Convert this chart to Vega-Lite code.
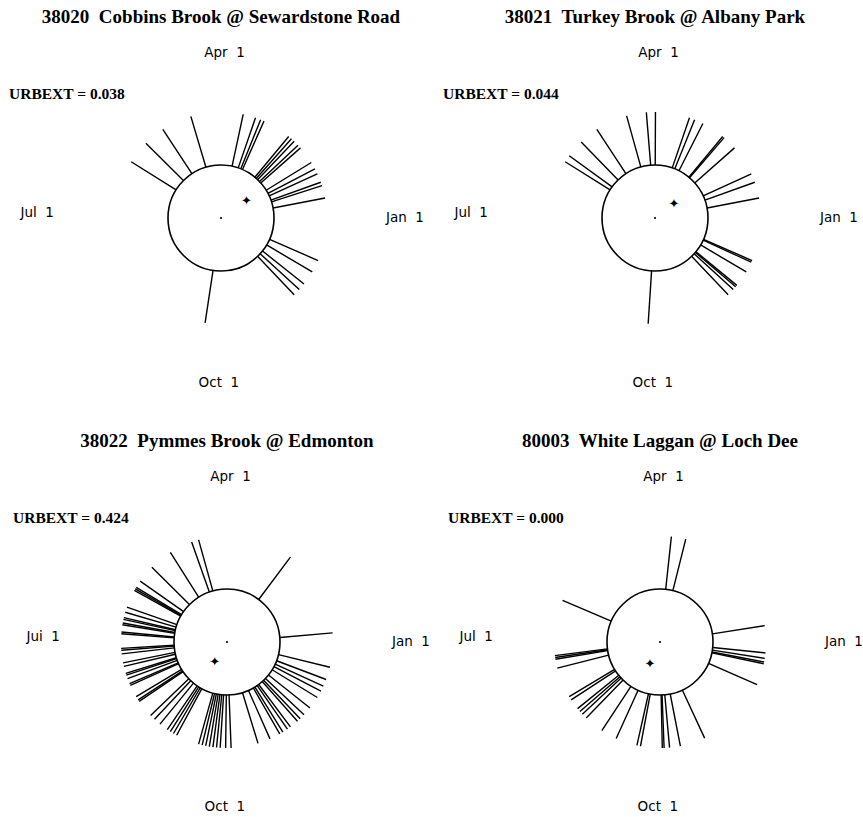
{
  "$schema": "https://vega.github.io/schema/vega-lite/v6.json",
  "padding": {"left": 9, "top": 8, "right": 0, "bottom": 0},
  "bounds": "flush",
  "align": "each",
  "columns": 2,
  "spacing": {"row": 74, "column": 12},
  "config": {
    "view": {"stroke": null},
    "title": {"font": "Liberation Serif", "fontSize": 19, "fontWeight": "bold", "offset": 16, "color": "black"},
    "text": {"font": "DejaVu Sans", "fontSize": 13.5, "color": "black"}
  },
  "datasets": {
    "p1": [{"day":150},{"day":137},{"day":125},{"day":108},{"day":79},{"day":72},{"day":69},{"day":67},{"day":51},{"day":49},{"day":47},{"day":44},{"day":42},{"day":32},{"day":28},{"day":25},{"day":20},{"day":18},{"day":11},{"day":341},{"day":334},{"day":326},{"day":322},{"day":318},{"day":265}],
    "p2": [{"day":150},{"day":146},{"day":136},{"day":125},{"day":107},{"day":96},{"day":91},{"day":72},{"day":69},{"day":64},{"day":51},{"day":50},{"day":42},{"day":25},{"day":20},{"day":11},{"day":341},{"day":340},{"day":334},{"day":325},{"day":324},{"day":322},{"day":318},{"day":270}],
    "p3": [{"day":54},{"day":5},{"day":351},{"day":344},{"day":340},{"day":337},{"day":333},{"day":326},{"day":321},{"day":318},{"day":316},{"day":311},{"day":309},{"day":306},{"day":304},{"day":298},{"day":291},{"day":276},{"day":273},{"day":270},{"day":268},{"day":266},{"day":264},{"day":262},{"day":260},{"day":258},{"day":245},{"day":243},{"day":241},{"day":239},{"day":234},{"day":230},{"day":227},{"day":217},{"day":216},{"day":214},{"day":207},{"day":206},{"day":203},{"day":201},{"day":200},{"day":196},{"day":194},{"day":189},{"day":187},{"day":186},{"day":178},{"day":177},{"day":173},{"day":172},{"day":170},{"day":169},{"day":166},{"day":163},{"day":153},{"day":152},{"day":151},{"day":147},{"day":137},{"day":124},{"day":111},{"day":107}],
    "p4": [{"day":85},{"day":77},{"day":159},{"day":190},{"day":191},{"day":192},{"day":197},{"day":214},{"day":216},{"day":222},{"day":224},{"day":226},{"day":229},{"day":240},{"day":249},{"day":261},{"day":263},{"day":275},{"day":276},{"day":279},{"day":285},{"day":299},{"day":9},{"day":359},{"day":356},{"day":354},{"day":353},{"day":341}],
    "vlab": [{"day":90,"label":"Apr\u00a0 1"},{"day":273,"label":"Oct\u00a0 1"}],
    "hlab": [{"day":0,"label":"Jan\u00a0 1"},{"day":181,"label":"Jul\u00a0 1"}],
    "hlab3": [{"day":0,"label":"Jan\u00a0 1"},{"day":181,"label":"Jui\u00a0 1"}]
  },
  "concat": [
    {
      "width": 410, "height": 350,
      "title": {"text": "38020\u00a0 Cobbins Brook @ Sewardstone Road"},
      "layer": [
        {"data": {"name": "p1"}, "mark": {"type": "arc", "filled": false, "color": "black", "strokeWidth": 1.4},
         "encoding": {"theta": {"field": "day", "type": "quantitative", "stack": null, "scale": {"domain": [0, 365], "range": [1.5707963268, -4.7123889804]}}, "theta2": {"field": "day"},
          "radius": {"datum": 2, "type": "quantitative", "scale": {"type": "linear", "domain": [0, 4], "range": [0, 212]}}, "radius2": {"datum": 1}}},
        {"data": {"values": [{}]}, "mark": {"type": "arc", "filled": false, "color": "black", "strokeWidth": 1.6},
         "encoding": {"theta": {"datum": 0, "type": "quantitative"}, "theta2": {"datum": 366}, "radius": {"datum": 1, "type": "quantitative"}}},
        {"data": {"values": [{}]}, "mark": {"type": "arc", "filled": true, "color": "black"},
         "encoding": {"theta": {"datum": 0, "type": "quantitative"}, "theta2": {"datum": 366}, "radius": {"datum": 0.02, "type": "quantitative"}}},
        {"data": {"values": [{"day": 34.5, "r": 0.58}]}, "mark": {"type": "text", "text": "✦", "fontSize": 13},
         "encoding": {"theta": {"field": "day", "type": "quantitative"}, "radius": {"field": "r", "type": "quantitative"}}},
        {"data": {"name": "vlab"}, "mark": {"type": "text"},
         "encoding": {"theta": {"field": "day", "type": "quantitative"}, "radius": {"datum": 3.11, "type": "quantitative"}, "text": {"field": "label"}}},
        {"data": {"name": "hlab"}, "mark": {"type": "text"},
         "encoding": {"theta": {"field": "day", "type": "quantitative"}, "radius": {"datum": 3.47, "type": "quantitative"}, "text": {"field": "label"}}},
        {"data": {"values": [{"label": "URBEXT = 0.038"}]}, "mark": {"type": "text", "align": "left", "font": "Liberation Serif", "fontWeight": "bold", "fontSize": 15.5},
         "encoding": {"x": {"datum": -1.034, "type": "quantitative", "scale": {"domain": [-1, 1], "nice": false, "zero": false}, "axis": null},
          "y": {"datum": 0.709, "type": "quantitative", "scale": {"domain": [-1, 1], "nice": false, "zero": false}, "axis": null}, "text": {"field": "label"}}}
      ]
    },
    {
      "width": 410, "height": 350,
      "title": {"text": "38021\u00a0 Turkey Brook @ Albany Park"},
      "layer": [
        {"data": {"name": "p2"}, "mark": {"type": "arc", "filled": false, "color": "black", "strokeWidth": 1.4},
         "encoding": {"theta": {"field": "day", "type": "quantitative", "stack": null, "scale": {"domain": [0, 365], "range": [1.5707963268, -4.7123889804]}}, "theta2": {"field": "day"},
          "radius": {"datum": 2, "type": "quantitative", "scale": {"type": "linear", "domain": [0, 4], "range": [0, 212]}}, "radius2": {"datum": 1}}},
        {"data": {"values": [{}]}, "mark": {"type": "arc", "filled": false, "color": "black", "strokeWidth": 1.6},
         "encoding": {"theta": {"datum": 0, "type": "quantitative"}, "theta2": {"datum": 366}, "radius": {"datum": 1, "type": "quantitative"}}},
        {"data": {"values": [{}]}, "mark": {"type": "arc", "filled": true, "color": "black"},
         "encoding": {"theta": {"datum": 0, "type": "quantitative"}, "theta2": {"datum": 366}, "radius": {"datum": 0.02, "type": "quantitative"}}},
        {"data": {"values": [{"day": 37.5, "r": 0.45}]}, "mark": {"type": "text", "text": "✦", "fontSize": 13},
         "encoding": {"theta": {"field": "day", "type": "quantitative"}, "radius": {"field": "r", "type": "quantitative"}}},
        {"data": {"name": "vlab"}, "mark": {"type": "text"},
         "encoding": {"theta": {"field": "day", "type": "quantitative"}, "radius": {"datum": 3.11, "type": "quantitative"}, "text": {"field": "label"}}},
        {"data": {"name": "hlab"}, "mark": {"type": "text"},
         "encoding": {"theta": {"field": "day", "type": "quantitative"}, "radius": {"datum": 3.47, "type": "quantitative"}, "text": {"field": "label"}}},
        {"data": {"values": [{"label": "URBEXT = 0.044"}]}, "mark": {"type": "text", "align": "left", "font": "Liberation Serif", "fontWeight": "bold", "fontSize": 15.5},
         "encoding": {"x": {"datum": -1.034, "type": "quantitative", "scale": {"domain": [-1, 1], "nice": false, "zero": false}, "axis": null},
          "y": {"datum": 0.709, "type": "quantitative", "scale": {"domain": [-1, 1], "nice": false, "zero": false}, "axis": null}, "text": {"field": "label"}}}
      ]
    },
    {
      "width": 422, "height": 350,
      "title": {"text": "38022\u00a0 Pymmes Brook @ Edmonton"},
      "layer": [
        {"data": {"name": "p3"}, "mark": {"type": "arc", "filled": false, "color": "black", "strokeWidth": 1.4},
         "encoding": {"theta": {"field": "day", "type": "quantitative", "stack": null, "scale": {"domain": [0, 365], "range": [1.5707963268, -4.7123889804]}}, "theta2": {"field": "day"},
          "radius": {"datum": 2, "type": "quantitative", "scale": {"type": "linear", "domain": [0, 4], "range": [0, 212]}}, "radius2": {"datum": 1}}},
        {"data": {"values": [{}]}, "mark": {"type": "arc", "filled": false, "color": "black", "strokeWidth": 1.6},
         "encoding": {"theta": {"datum": 0, "type": "quantitative"}, "theta2": {"datum": 366}, "radius": {"datum": 1, "type": "quantitative"}}},
        {"data": {"values": [{}]}, "mark": {"type": "arc", "filled": true, "color": "black"},
         "encoding": {"theta": {"datum": 0, "type": "quantitative"}, "theta2": {"datum": 366}, "radius": {"datum": 0.02, "type": "quantitative"}}},
        {"data": {"values": [{"day": 241.6, "r": 0.44}]}, "mark": {"type": "text", "text": "✦", "fontSize": 13},
         "encoding": {"theta": {"field": "day", "type": "quantitative"}, "radius": {"field": "r", "type": "quantitative"}}},
        {"data": {"name": "vlab"}, "mark": {"type": "text"},
         "encoding": {"theta": {"field": "day", "type": "quantitative"}, "radius": {"datum": 3.11, "type": "quantitative"}, "text": {"field": "label"}}},
        {"data": {"name": "hlab3"}, "mark": {"type": "text"},
         "encoding": {"theta": {"field": "day", "type": "quantitative"}, "radius": {"datum": 3.47, "type": "quantitative"}, "text": {"field": "label"}}},
        {"data": {"values": [{"label": "URBEXT = 0.424"}]}, "mark": {"type": "text", "align": "left", "font": "Liberation Serif", "fontWeight": "bold", "fontSize": 15.5},
         "encoding": {"x": {"datum": -1.014, "type": "quantitative", "scale": {"domain": [-1, 1], "nice": false, "zero": false}, "axis": null},
          "y": {"datum": 0.709, "type": "quantitative", "scale": {"domain": [-1, 1], "nice": false, "zero": false}, "axis": null}, "text": {"field": "label"}}}
      ]
    },
    {
      "width": 420, "height": 350,
      "title": {"text": "80003\u00a0 White Laggan @ Loch Dee"},
      "layer": [
        {"data": {"name": "p4"}, "mark": {"type": "arc", "filled": false, "color": "black", "strokeWidth": 1.4},
         "encoding": {"theta": {"field": "day", "type": "quantitative", "stack": null, "scale": {"domain": [0, 365], "range": [1.5707963268, -4.7123889804]}}, "theta2": {"field": "day"},
          "radius": {"datum": 2, "type": "quantitative", "scale": {"type": "linear", "domain": [0, 4], "range": [0, 212]}}, "radius2": {"datum": 1}}},
        {"data": {"values": [{}]}, "mark": {"type": "arc", "filled": false, "color": "black", "strokeWidth": 1.6},
         "encoding": {"theta": {"datum": 0, "type": "quantitative"}, "theta2": {"datum": 366}, "radius": {"datum": 1, "type": "quantitative"}}},
        {"data": {"values": [{}]}, "mark": {"type": "arc", "filled": true, "color": "black"},
         "encoding": {"theta": {"datum": 0, "type": "quantitative"}, "theta2": {"datum": 366}, "radius": {"datum": 0.02, "type": "quantitative"}}},
        {"data": {"values": [{"day": 249.3, "r": 0.46}]}, "mark": {"type": "text", "text": "✦", "fontSize": 13},
         "encoding": {"theta": {"field": "day", "type": "quantitative"}, "radius": {"field": "r", "type": "quantitative"}}},
        {"data": {"name": "vlab"}, "mark": {"type": "text"},
         "encoding": {"theta": {"field": "day", "type": "quantitative"}, "radius": {"datum": 3.11, "type": "quantitative"}, "text": {"field": "label"}}},
        {"data": {"name": "hlab"}, "mark": {"type": "text"},
         "encoding": {"theta": {"field": "day", "type": "quantitative"}, "radius": {"datum": 3.47, "type": "quantitative"}, "text": {"field": "label"}}},
        {"data": {"values": [{"label": "URBEXT = 0.000"}]}, "mark": {"type": "text", "align": "left", "font": "Liberation Serif", "fontWeight": "bold", "fontSize": 15.5},
         "encoding": {"x": {"datum": -1.0095, "type": "quantitative", "scale": {"domain": [-1, 1], "nice": false, "zero": false}, "axis": null},
          "y": {"datum": 0.709, "type": "quantitative", "scale": {"domain": [-1, 1], "nice": false, "zero": false}, "axis": null}, "text": {"field": "label"}}}
      ]
    }
  ]
}
